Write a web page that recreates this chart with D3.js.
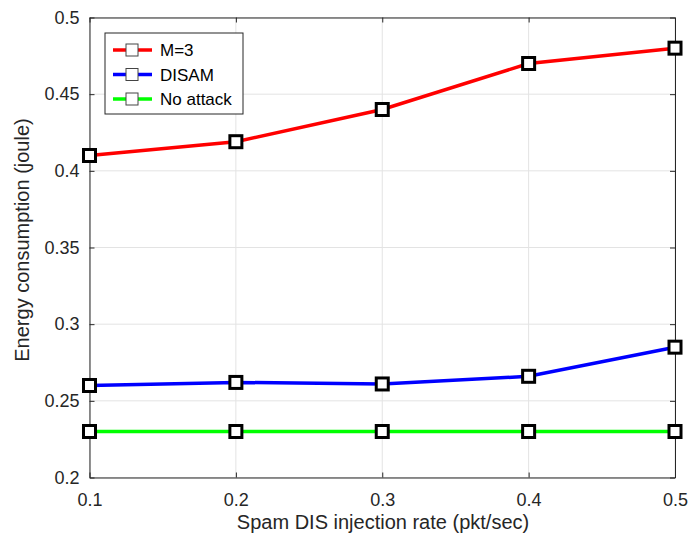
<!DOCTYPE html>
<html>
<head>
<meta charset="utf-8">
<script src="https://cdn.jsdelivr.net/npm/d3@7"></script>
<style>
  body { margin: 0; background: #fff; }
  svg { font-family: "Liberation Sans", Arial, sans-serif; }
</style>
</head>
<body>
<div id="chart"></div>
<script>
// data
const rates = [0.1, 0.2, 0.3, 0.4, 0.5];
const m3 = [0.41, 0.419, 0.44, 0.47, 0.48];
const disam = [0.26, 0.262, 0.261, 0.266, 0.285];
const noAttack = [0.23, 0.23, 0.23, 0.23, 0.23];
const seriesNames = ['M=3', 'DISAM', 'No attack'];
const seriesColors = ['#ff0000', '#0000ff', '#00ff00'];
const xTicks = [0.1, 0.2, 0.3, 0.4, 0.5];
const yTicks = [0.2, 0.25, 0.3, 0.35, 0.4, 0.45, 0.5];

const width = 689, height = 537;
const margin = { top: 17.5, right: 14, bottom: 59.5, left: 89.5 };
const w = width - margin.left - margin.right;
const h = height - margin.top - margin.bottom;

const svg = d3.select('#chart').append('svg')
  .attr('width', width).attr('height', height);
const g = svg.append('g')
  .attr('transform', 'translate(' + margin.left + ',' + margin.top + ')');

const x = d3.scaleLinear().domain([0.1, 0.5]).range([0, w]);
const y = d3.scaleLinear().domain([0.2, 0.5]).range([h, 0]);

// grid
g.append('g').selectAll('line').data(xTicks).enter().append('line')
  .attr('x1', d => x(d)).attr('x2', d => x(d))
  .attr('y1', 0).attr('y2', h)
  .attr('stroke', '#e3e3e3').attr('stroke-width', 1);
g.append('g').selectAll('line').data(yTicks).enter().append('line')
  .attr('y1', d => y(d)).attr('y2', d => y(d))
  .attr('x1', 0).attr('x2', w)
  .attr('stroke', '#e3e3e3').attr('stroke-width', 1);

// axes (ticks inward, box on all sides)
const fmt = d => d3.format('')(+d.toFixed(2));
const styleAxis = sel => {
  sel.select('.domain').attr('stroke', '#262626');
  sel.selectAll('.tick line').attr('stroke', '#262626');
  sel.selectAll('.tick text').attr('fill', '#262626').style('font-size', '18px');
};
g.append('g').attr('transform', 'translate(0,' + h + ')')
  .call(d3.axisBottom(x).tickValues(xTicks).tickFormat(fmt).tickSizeInner(-5).tickSizeOuter(0).tickPadding(16))
  .call(styleAxis);
g.append('g')
  .call(d3.axisLeft(y).tickValues(yTicks).tickFormat(fmt).tickSizeInner(-5).tickSizeOuter(0).tickPadding(10))
  .call(styleAxis);
g.append('g')
  .call(d3.axisTop(x).tickValues(xTicks).tickFormat('').tickSizeInner(-5).tickSizeOuter(0))
  .call(styleAxis);
g.append('g').attr('transform', 'translate(' + w + ',0)')
  .call(d3.axisRight(y).tickValues(yTicks).tickFormat('').tickSizeInner(-5).tickSizeOuter(0))
  .call(styleAxis);

// series
const allSeries = [m3, disam, noAttack];
const line = d3.line().x((d, i) => x(rates[i])).y(d => y(d));
allSeries.forEach((vals, si) => {
  g.append('path').datum(vals)
    .attr('d', line)
    .attr('fill', 'none')
    .attr('stroke', seriesColors[si])
    .attr('stroke-width', 3.5);
});
allSeries.forEach(vals => {
  g.append('g').selectAll('rect').data(vals).enter().append('rect')
    .attr('x', (d, i) => x(rates[i]) - 6)
    .attr('y', d => y(d) - 6)
    .attr('width', 12).attr('height', 12)
    .attr('fill', '#fff')
    .attr('stroke', '#000')
    .attr('stroke-width', 3);
});

// axis labels
svg.append('text')
  .attr('x', 383).attr('y', 529)
  .attr('text-anchor', 'middle')
  .attr('fill', '#262626').style('font-size', '20px')
  .text('Spam DIS injection rate (pkt/sec)');
svg.append('text')
  .attr('transform', 'translate(29,240) rotate(-90)')
  .attr('text-anchor', 'middle')
  .attr('fill', '#262626').style('font-size', '20px')
  .text('Energy consumption (joule)');

// legend
const lg = svg.append('g').attr('transform', 'translate(105,33)');
lg.append('rect').attr('width', 138).attr('height', 81)
  .attr('fill', '#fff').attr('stroke', '#262626').attr('stroke-width', 1);
seriesNames.forEach((name, i) => {
  const cy = 17 + i * 24.5;
  lg.append('line').attr('x1', 8).attr('x2', 47).attr('y1', cy).attr('y2', cy)
    .attr('stroke', seriesColors[i]).attr('stroke-width', 3.5);
  lg.append('rect').attr('x', 21).attr('y', cy - 6).attr('width', 12).attr('height', 12)
    .attr('fill', '#fff').attr('stroke', '#444').attr('stroke-width', 1);
  lg.append('text').attr('x', 55).attr('y', cy + 6)
    .attr('fill', '#000').style('font-size', '17px').text(name);
});
</script>
</body>
</html>
